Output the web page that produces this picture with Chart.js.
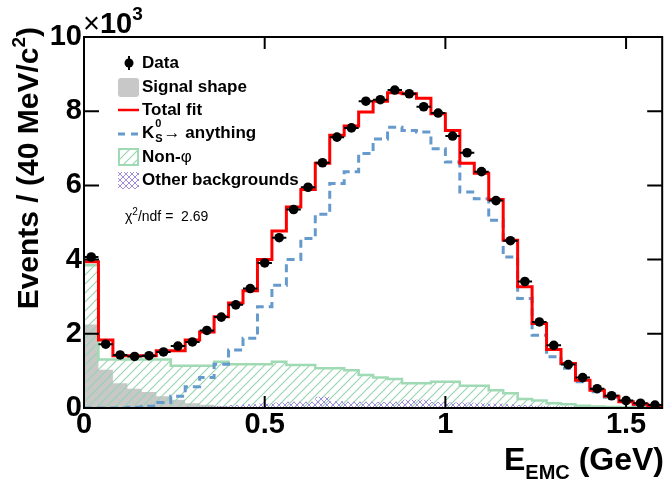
<!DOCTYPE html>
<html>
<head>
<meta charset="utf-8">
<script src="https://cdn.jsdelivr.net/npm/chart.js@4.4.1/dist/chart.umd.min.js"></script>
<style>
  html, body { margin: 0; padding: 0; background: #fff; }
  #chart { display: block; }
</style>
</head>
<body>
<canvas id="chart" width="667" height="482"></canvas>
<script>
// E_EMC fit - 40 MeV bins from 0 to 1.6 GeV, counts in units of 10^3

const X_MIN = 0;
const BIN_WIDTH = 0.04;
const N_BINS = 40;

// Data points
const dataEvents = [
    4.07, 1.72, 1.43, 1.39, 1.41, 1.51, 1.67, 1.78, 2.09, 2.45,
    2.78, 3.22, 3.91, 4.59, 5.35, 5.95, 6.61, 7.30, 7.55, 8.27,
    8.31, 8.57, 8.47, 8.12, 7.95, 7.33, 6.88, 6.37, 5.59, 4.51,
    3.41, 2.32, 1.69, 1.17, 0.82, 0.52, 0.33, 0.20, 0.13, 0.08
];

// Total fit
const totalFit = [
    3.94, 1.83, 1.41, 1.41, 1.41, 1.54, 1.54, 1.83, 2.05, 2.46,
    2.83, 3.16, 4.00, 4.77, 5.42, 5.89, 6.60, 7.35, 7.60, 7.98,
    8.27, 8.50, 8.47, 8.35, 7.93, 7.48, 6.60, 6.33, 5.62, 4.52,
    3.27, 2.28, 1.58, 1.20, 0.75, 0.48, 0.32, 0.17, 0.10, 0.05
];

// K_S -> anything
const ksAnything = [
    0.00, 0.00, 0.00, 0.02, 0.05, 0.15, 0.32, 0.57, 0.82, 1.18,
    1.56, 1.88, 2.73, 3.31, 4.00, 4.57, 5.22, 6.05, 6.37, 6.86,
    7.25, 7.57, 7.48, 7.44, 6.99, 6.63, 5.82, 5.64, 5.06, 4.07,
    2.95, 1.96, 1.38, 1.07, 0.71, 0.44, 0.29, 0.17, 0.09, 0.05
];

// Non-phi
const nonPhi = [
    3.85, 1.31, 1.31, 1.31, 1.31, 1.31, 1.14, 1.14, 1.14, 1.25,
    1.18, 1.18, 1.18, 1.25, 1.16, 1.16, 1.07, 1.07, 1.02, 0.89,
    0.82, 0.78, 0.67, 0.67, 0.71, 0.71, 0.60, 0.60, 0.48, 0.40,
    0.24, 0.20, 0.13, 0.10, 0.06, 0.04, 0.03, 0.02, 0.02, 0.02
];

// Signal shape
const signalShape = [
    2.25, 1.03, 0.67, 0.52, 0.43, 0.32, 0.22, 0.13, 0.09, 0.05,
    0.03, 0.02, 0.01, 0.01, 0.00, 0.00, 0.00, 0.00, 0.00, 0.00,
    0.00, 0.00, 0.00, 0.00, 0.00, 0.00, 0.00, 0.00, 0.00, 0.00,
    0.00, 0.00, 0.00, 0.00, 0.00, 0.00, 0.00, 0.00, 0.00, 0.00
];

// Other backgrounds
const otherBkg = [
    0.00, 0.00, 0.00, 0.00, 0.00, 0.01, 0.02, 0.04, 0.05, 0.06,
    0.08, 0.10, 0.12, 0.15, 0.17, 0.17, 0.30, 0.18, 0.17, 0.17,
    0.16, 0.17, 0.22, 0.22, 0.16, 0.15, 0.15, 0.13, 0.12, 0.10,
    0.08, 0.06, 0.05, 0.04, 0.03, 0.02, 0.01, 0.01, 0.01, 0.01
];

const xTicks = [0, 0.5, 1, 1.5];
const yTicks = [0, 2, 4, 6, 8, 10];

const FONT = "'Liberation Sans', Arial, Helvetica, sans-serif";

const binEdges = [];
for (let k = 0; k <= N_BINS; k++) binEdges.push(+(X_MIN + k * BIN_WIDTH).toFixed(4));
const binCenters = binEdges.slice(0, N_BINS).map(e => +(e + BIN_WIDTH / 2).toFixed(4));

// histogram outline: one point per left edge plus closing point
function stepPoints(values) {
    const pts = values.map((v, k) => ({ x: binEdges[k], y: v }));
    pts.push({ x: binEdges[values.length], y: values[values.length - 1] });
    return pts;
}

function makePattern(size, draw) {
    const c = document.createElement('canvas');
    c.width = size;
    c.height = size;
    const g = c.getContext('2d');
    draw(g, size);
    return g.createPattern(c, 'repeat');
}

const GREEN_LINE = 'rgb(160,218,180)';
const hatchGreen = makePattern(9, (g, s) => {
    g.strokeStyle = 'rgb(150,212,172)';
    g.lineWidth = 1.1;
    g.beginPath();
    g.moveTo(-1, s + 1); g.lineTo(s + 1, -1);
    g.moveTo(-2, 2); g.lineTo(2, -2);
    g.moveTo(s - 2, s + 2); g.lineTo(s + 2, s - 2);
    g.stroke();
});

const crossPurple = makePattern(6, (g, s) => {
    g.strokeStyle = 'rgb(160,140,220)';
    g.lineWidth = 1;
    g.beginPath();
    g.moveTo(0, 0); g.lineTo(s, s);
    g.moveTo(0, s); g.lineTo(s, 0);
    g.stroke();
});

function font(size, bold) {
    return (bold ? 'bold ' : '') + size + 'px ' + FONT;
}

// draw a row of text pieces (for sub/superscripts); returns width
function drawParts(ctx, x, y, parts, measureOnly) {
    let cx = x;
    parts.forEach(p => {
        ctx.font = font(p.size, p.bold !== false);
        if (!measureOnly) ctx.fillText(p.text, cx, y + (p.dy || 0));
        cx += ctx.measureText(p.text).width;
    });
    return cx - x;
}

const errorBars = {
    id: 'errorBars',
    afterDatasetsDraw(chart) {
        const { ctx, chartArea: a, scales: { x, y } } = chart;
        ctx.save();
        ctx.beginPath();
        ctx.rect(a.left, a.top, a.right - a.left, a.bottom - a.top);
        ctx.clip();
        ctx.strokeStyle = '#000';
        ctx.lineWidth = 2;
        ctx.beginPath();
        dataEvents.forEach((v, k) => {
            const py = y.getPixelForValue(v);
            ctx.moveTo(x.getPixelForValue(binEdges[k]), py);
            ctx.lineTo(x.getPixelForValue(binEdges[k + 1]), py);
        });
        ctx.stroke();
        ctx.restore();
    }
};

const decorations = {
    id: 'decorations',
    afterDraw(chart) {
        const { ctx, chartArea: a, scales: { x, y } } = chart;
        ctx.save();

        // frame and inner ticks
        ctx.strokeStyle = '#000';
        ctx.lineWidth = 2;
        ctx.strokeRect(a.left, a.top, a.right - a.left, a.bottom - a.top);
        ctx.beginPath();
        yTicks.forEach(v => {
            const py = y.getPixelForValue(v);
            ctx.moveTo(a.left, py); ctx.lineTo(a.left + 15, py);
            ctx.moveTo(a.right, py); ctx.lineTo(a.right - 15, py);
        });
        xTicks.forEach(v => {
            const px = x.getPixelForValue(v);
            ctx.moveTo(px, a.bottom); ctx.lineTo(px, a.bottom - 12);
            ctx.moveTo(px, a.top); ctx.lineTo(px, a.top + 12);
        });
        ctx.stroke();

        ctx.fillStyle = '#000';
        ctx.textBaseline = 'alphabetic';
        ctx.textAlign = 'left';

        // x10^3
        drawParts(ctx, a.left - 1, 33, [
            { text: '\u00d7', size: 29, bold: false },
            { text: '10', size: 29 },
            { text: '3', size: 19, dy: -13 }
        ]);

        // y title, rotated, ending near the top
        const yParts = [
            { text: 'Events / (40 MeV/', size: 30 },
            { text: 'c', size: 30, bold: true },
            { text: '2', size: 19, dy: -13 },
            { text: ')', size: 30 }
        ];
        ctx.save();
        ctx.translate(38, 27);
        ctx.rotate(-Math.PI / 2);
        const yw = drawParts(ctx, 0, 0, yParts, true);
        drawParts(ctx, -yw, 0, yParts);
        ctx.restore();

        // x title, right aligned
        const xParts = [
            { text: 'E', size: 32 },
            { text: 'EMC', size: 20, dy: 9 },
            { text: ' (GeV)', size: 32 }
        ];
        const xw = drawParts(ctx, 0, 0, xParts, true);
        drawParts(ctx, 664 - xw, 470, xParts);

        // legend
        const lx = 118, tx = 142;
        const rows = [63, 87, 110, 133, 157, 180];
        ctx.textBaseline = 'middle';

        // Data
        ctx.lineWidth = 2;
        ctx.beginPath();
        ctx.moveTo(lx + 11, rows[0] - 7); ctx.lineTo(lx + 11, rows[0] + 7);
        ctx.stroke();
        ctx.beginPath();
        ctx.arc(lx + 11, rows[0], 4.5, 0, Math.PI * 2);
        ctx.fill();
        drawParts(ctx, tx, rows[0], [{ text: 'Data', size: 17 }]);

        // Signal shape
        ctx.fillStyle = 'rgb(200,200,200)';
        ctx.beginPath();
        ctx.roundRect(lx, rows[1] - 9, 21, 19, 3);
        ctx.fill();
        ctx.fillStyle = '#000';
        drawParts(ctx, tx, rows[1], [{ text: 'Signal shape', size: 17 }]);

        // Total fit
        ctx.strokeStyle = '#ff0000';
        ctx.lineWidth = 2.5;
        ctx.beginPath();
        ctx.moveTo(lx, rows[2]); ctx.lineTo(lx + 21, rows[2]);
        ctx.stroke();
        drawParts(ctx, tx, rows[2], [{ text: 'Total fit', size: 17 }]);

        // K_S^0 -> anything
        ctx.strokeStyle = 'rgb(102,153,204)';
        ctx.lineWidth = 3;
        ctx.beginPath();
        ctx.moveTo(lx, rows[3] + 1); ctx.lineTo(lx + 7, rows[3] + 1);
        ctx.moveTo(lx + 13, rows[3] + 1); ctx.lineTo(lx + 20, rows[3] + 1);
        ctx.stroke();
        let cx = tx + drawParts(ctx, tx, rows[3], [{ text: 'K', size: 17 }]);
        ctx.font = font(11, true);
        ctx.fillText('0', cx + 1, rows[3] - 9);
        ctx.fillText('S', cx + 1, rows[3] + 6);
        cx += ctx.measureText('S').width + 2;
        drawParts(ctx, cx, rows[3], [
            { text: '\u2192', size: 17, bold: false },
            { text: ' anything', size: 17 }
        ]);

        // Non-phi
        ctx.fillStyle = hatchGreen;
        ctx.fillRect(lx, rows[4] - 9, 21, 18);
        ctx.strokeStyle = GREEN_LINE;
        ctx.lineWidth = 2;
        ctx.strokeRect(lx + 1, rows[4] - 8, 19, 16);
        ctx.fillStyle = '#000';
        drawParts(ctx, tx, rows[4], [
            { text: 'Non-', size: 17 },
            { text: '\u03c6', size: 17, bold: false }
        ]);

        // Other backgrounds
        ctx.fillStyle = crossPurple;
        ctx.fillRect(lx, rows[5] - 8, 21, 17);
        ctx.fillStyle = '#000';
        drawParts(ctx, tx, rows[5], [{ text: 'Other backgrounds', size: 17 }]);

        // chi2/ndf
        drawParts(ctx, 125, 217, [
            { text: '\u03c7', size: 14, bold: false },
            { text: '2', size: 10, bold: false, dy: -5 },
            { text: '/ndf =  2.69', size: 14, bold: false }
        ]);

        ctx.restore();
    }
};

const histLine = (label, values, color, width, dash) => ({
    label,
    data: stepPoints(values),
    stepped: 'before',
    borderColor: color,
    borderWidth: width,
    borderDash: dash || [],
    pointRadius: 0,
    fill: false
});

const histFill = (label, values, fill, border, width) => ({
    label,
    data: stepPoints(values),
    stepped: 'before',
    backgroundColor: fill,
    borderColor: border,
    borderWidth: width,
    pointRadius: 0,
    fill: 'origin'
});

new Chart(document.getElementById('chart'), {
    type: 'line',
    data: {
        datasets: [
            {
                label: 'Data',
                data: dataEvents.map((v, k) => ({ x: binCenters[k], y: v })),
                showLine: false,
                pointRadius: 4.8,
                pointBackgroundColor: '#000',
                pointBorderWidth: 0
            },
            histLine('Total fit', totalFit, '#ff0000', 3),
            histLine('K_S -> anything', ksAnything, 'rgb(102,153,204)', 3, [8, 5]),
            histFill('Other backgrounds', otherBkg, crossPurple, 'rgba(0,0,0,0)', 0),
            histFill('Non-phi', nonPhi, hatchGreen, GREEN_LINE, 2.5),
            histFill('Signal shape', signalShape, 'rgb(200,200,200)', 'rgba(0,0,0,0)', 0)
        ]
    },
    options: {
        responsive: false,
        animation: false,
        devicePixelRatio: 1,
        layout: { padding: { top: 37, right: 1, left: 0, bottom: 0 } },
        elements: { line: { tension: 0 } },
        plugins: {
            legend: { display: false },
            tooltip: { enabled: false }
        },
        scales: {
            x: {
                type: 'linear',
                min: 0,
                max: 1.6,
                grid: { display: false, drawTicks: false },
                border: { display: false },
                afterBuildTicks: s => { s.ticks = xTicks.map(v => ({ value: v })); },
                afterFit: s => { s.height = 74; },
                ticks: {
                    font: { family: FONT, size: 29, weight: 'bold' },
                    color: '#000',
                    padding: 0,
                    maxRotation: 0,
                    autoSkip: false,
                    callback: v => String(v)
                }
            },
            y: {
                min: 0,
                max: 10,
                grid: { display: false, drawTicks: false },
                border: { display: false },
                afterBuildTicks: s => { s.ticks = yTicks.map(v => ({ value: v })); },
                afterFit: s => { s.width = 84; },
                ticks: {
                    font: { family: FONT, size: 29, weight: 'bold' },
                    color: '#000',
                    padding: 2,
                    callback: v => String(v)
                }
            }
        }
    },
    plugins: [errorBars, decorations]
});
</script>
</body>
</html>
